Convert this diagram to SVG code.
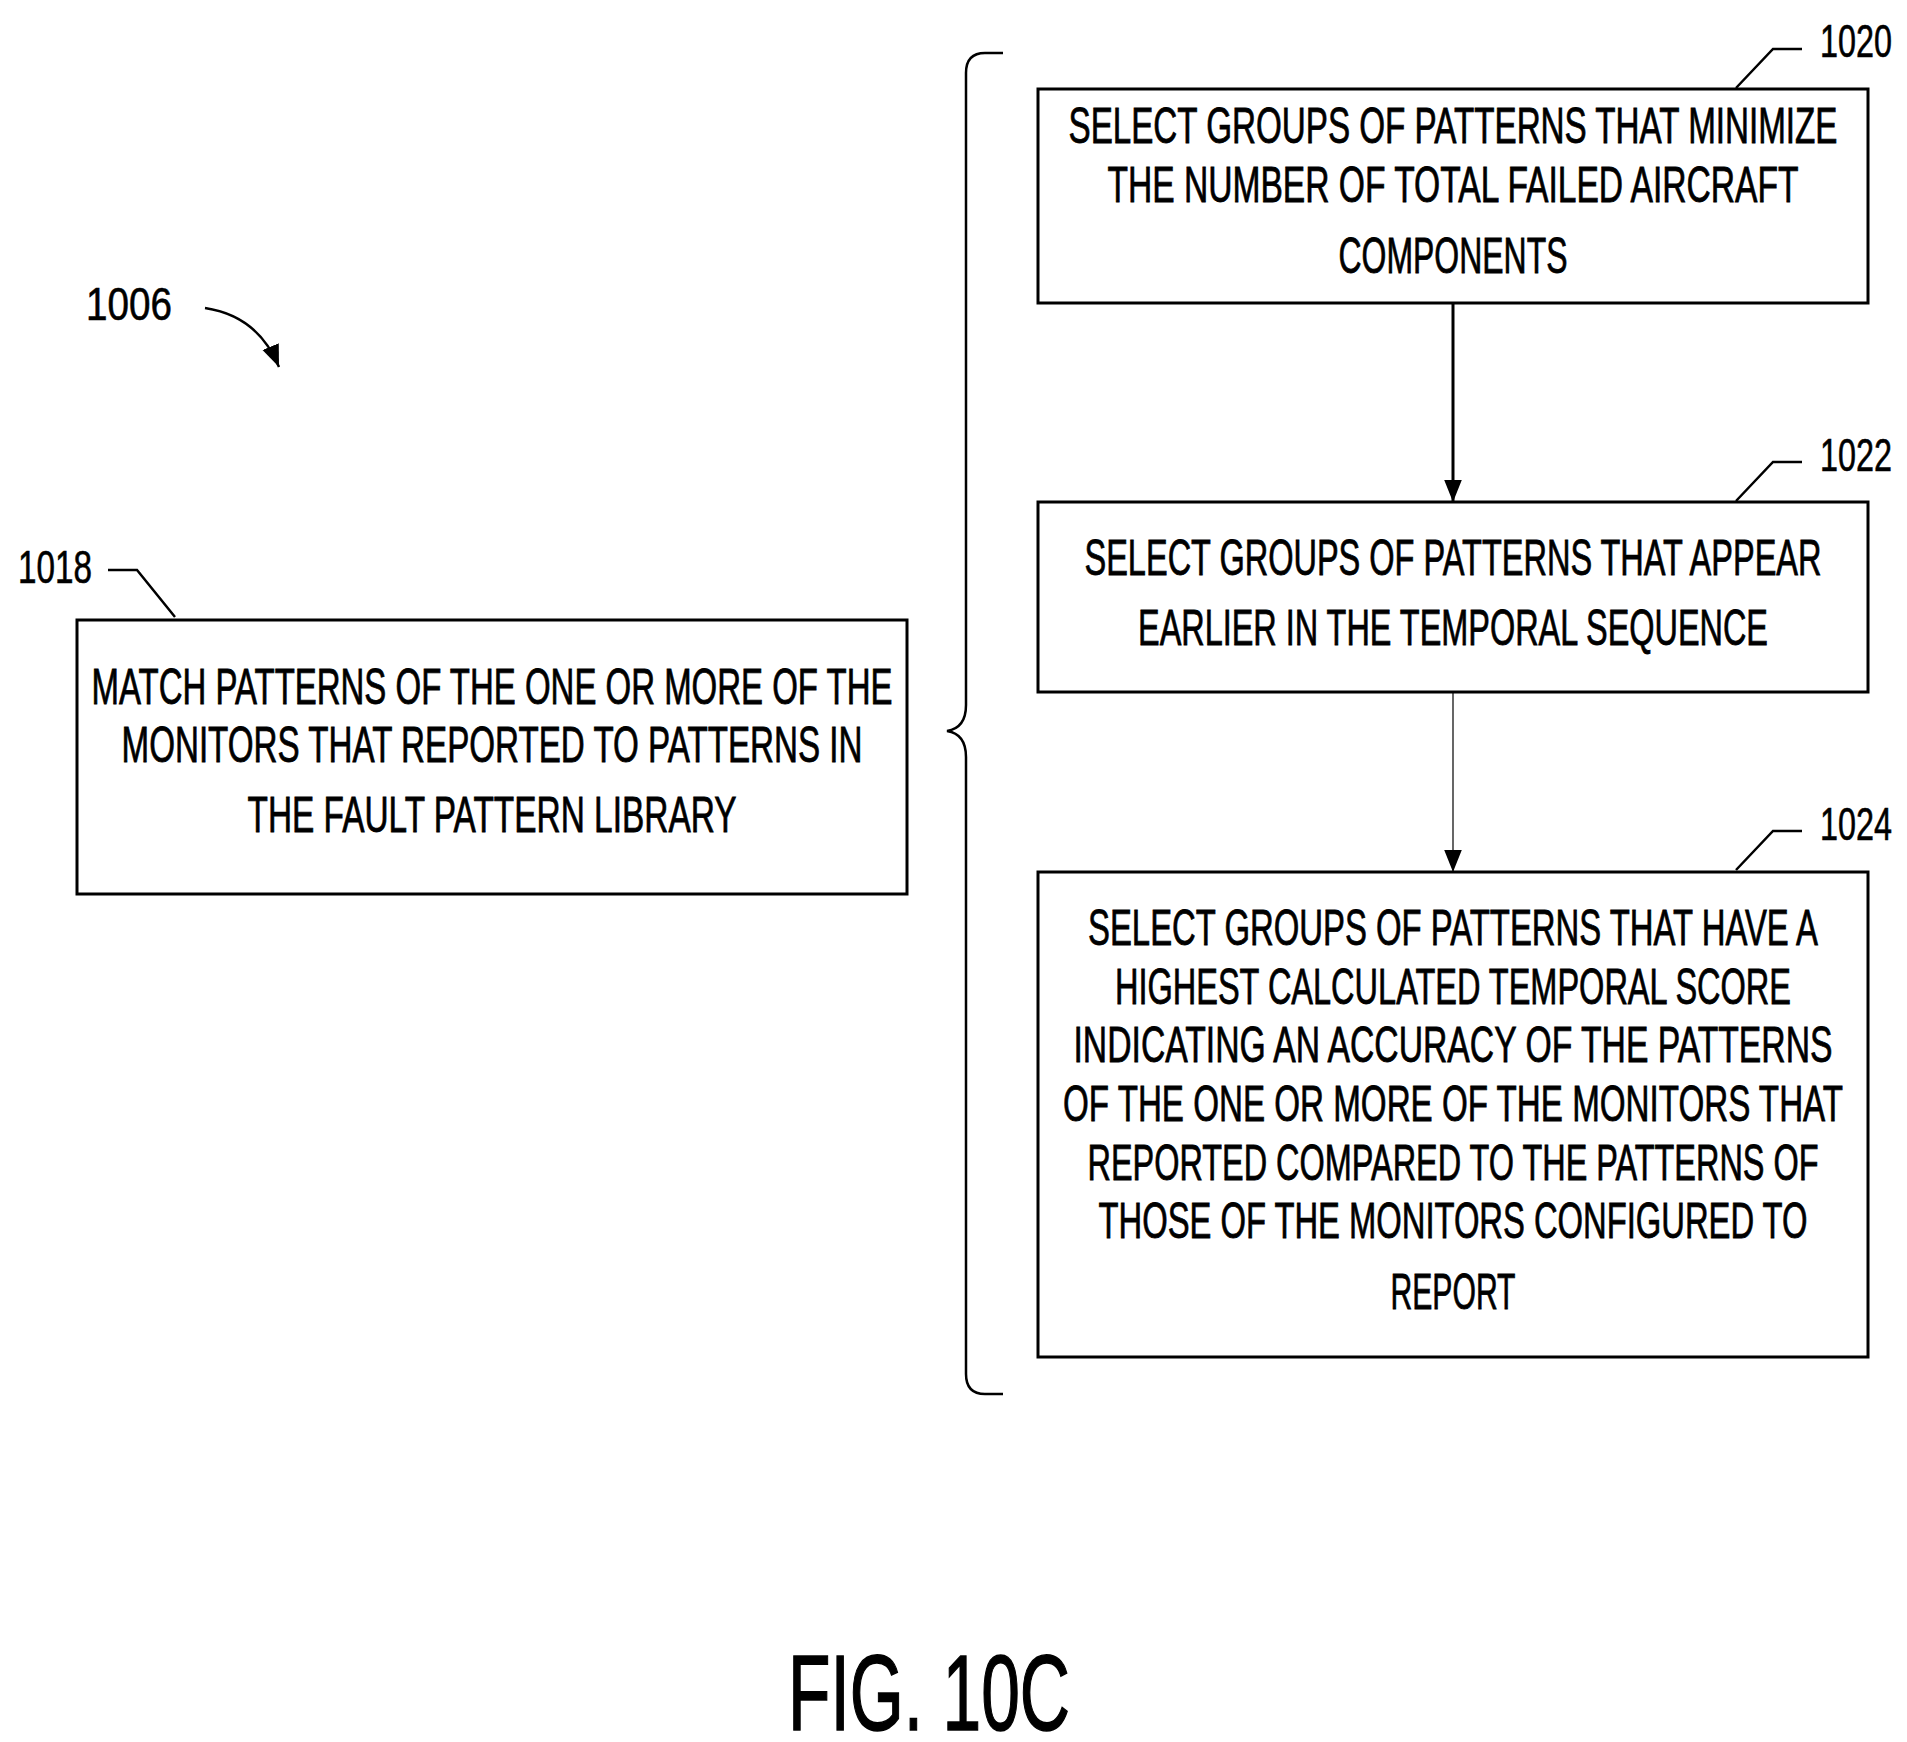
<svg xmlns="http://www.w3.org/2000/svg" width="1907" height="1742" viewBox="0 0 1907 1742">
<defs>
<style>
.b{fill:#fff;stroke:#000;stroke-width:3}
.t{font-family:"Liberation Sans",Arial,sans-serif;font-size:50px;text-anchor:middle;fill:#000;stroke:#000;stroke-width:0.8}
.n{font-family:"Liberation Sans",Arial,sans-serif;font-size:46px;fill:#000;stroke:#000;stroke-width:0.6}
.l{fill:none;stroke:#000;stroke-width:2.5}
</style>
<marker id="A" viewBox="0 0 10 10" refX="10" refY="5" markerWidth="22" markerHeight="22" markerUnits="userSpaceOnUse" orient="auto"><path d="M0,1L10,5L0,9z"/></marker>
</defs>
<rect width="1907" height="1742" fill="#fff"/>
<g id="n1018">
<rect class="b" x="77" y="620" width="830" height="274"/>
<text class="t" x="492" y="704" textLength="801" lengthAdjust="spacingAndGlyphs">MATCH PATTERNS OF THE ONE OR MORE OF THE</text>
<text class="t" x="492" y="762" textLength="741" lengthAdjust="spacingAndGlyphs">MONITORS THAT REPORTED TO PATTERNS IN</text>
<text class="t" x="492" y="832" textLength="489" lengthAdjust="spacingAndGlyphs">THE FAULT PATTERN LIBRARY</text>
<text class="n" x="18" y="583" textLength="74" lengthAdjust="spacingAndGlyphs">1018</text>
<path class="l" d="M108,570H137L175,617"/>
</g>
<g id="n1020">
<rect class="b" x="1038" y="89" width="830" height="214"/>
<text class="t" x="1453" y="143" textLength="769" lengthAdjust="spacingAndGlyphs">SELECT GROUPS OF PATTERNS THAT MINIMIZE</text>
<text class="t" x="1453" y="202" textLength="691" lengthAdjust="spacingAndGlyphs">THE NUMBER OF TOTAL FAILED AIRCRAFT</text>
<text class="t" x="1453" y="273" textLength="229" lengthAdjust="spacingAndGlyphs">COMPONENTS</text>
<text class="n" x="1820" y="57" textLength="72" lengthAdjust="spacingAndGlyphs">1020</text>
<path class="l" d="M1736,88L1773,49H1802"/>
</g>
<g id="n1022">
<rect class="b" x="1038" y="502" width="830" height="190"/>
<text class="t" x="1453" y="575" textLength="737" lengthAdjust="spacingAndGlyphs">SELECT GROUPS OF PATTERNS THAT APPEAR</text>
<text class="t" x="1453" y="645" textLength="630" lengthAdjust="spacingAndGlyphs">EARLIER IN THE TEMPORAL SEQUENCE</text>
<text class="n" x="1820" y="471" textLength="72" lengthAdjust="spacingAndGlyphs">1022</text>
<path class="l" d="M1736,501L1773,462H1802"/>
</g>
<g id="n1024">
<rect class="b" x="1038" y="872" width="830" height="485"/>
<text class="t" x="1453" y="945" textLength="730" lengthAdjust="spacingAndGlyphs">SELECT GROUPS OF PATTERNS THAT HAVE A</text>
<text class="t" x="1453" y="1004" textLength="676" lengthAdjust="spacingAndGlyphs">HIGHEST CALCULATED TEMPORAL SCORE</text>
<text class="t" x="1453" y="1062" textLength="759" lengthAdjust="spacingAndGlyphs">INDICATING AN ACCURACY OF THE PATTERNS</text>
<text class="t" x="1453" y="1121" textLength="780" lengthAdjust="spacingAndGlyphs">OF THE ONE OR MORE OF THE MONITORS THAT</text>
<text class="t" x="1453" y="1180" textLength="731" lengthAdjust="spacingAndGlyphs">REPORTED COMPARED TO THE PATTERNS OF</text>
<text class="t" x="1453" y="1238" textLength="709" lengthAdjust="spacingAndGlyphs">THOSE OF THE MONITORS CONFIGURED TO</text>
<text class="t" x="1453" y="1309" textLength="125" lengthAdjust="spacingAndGlyphs">REPORT</text>
<text class="n" x="1820" y="840" textLength="72" lengthAdjust="spacingAndGlyphs">1024</text>
<path class="l" d="M1736,870L1773,831H1802"/>
</g>
<g id="connectors">
<path d="M1453,303V502" stroke="#000" stroke-width="3" marker-end="url(#A)"/>
<path d="M1453,692V872" stroke="#000" stroke-width="1.2" marker-end="url(#A)"/>
<path class="l" stroke-width="1.5" d="M1003,53H985Q966,53 966,73V705Q966,728 947,731Q966,734 966,757V1374Q966,1394 985,1394H1003"/>
</g>
<g id="label1006">
<text class="n" x="86" y="320" font-size="50" textLength="86" lengthAdjust="spacingAndGlyphs">1006</text>
<path d="M205,308Q258,316 279,367" fill="none" stroke="#000" stroke-width="2.5" marker-end="url(#A)"/>
</g>
<text x="929" y="1730" font-family="Liberation Sans,Arial,sans-serif" font-size="108" text-anchor="middle" stroke="#000" stroke-width="1.5" textLength="282" lengthAdjust="spacingAndGlyphs">FIG. 10C</text>
</svg>
